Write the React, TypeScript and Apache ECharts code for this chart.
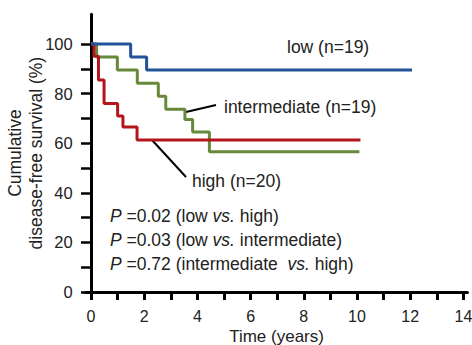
import React, { useEffect, useRef } from 'react';
import * as echarts from 'echarts';

// Kaplan-Meier step data (time in years, survival in %)
const lowTimes = [0, 1.49, 2.09, 12.07];
const lowSurvival = [100, 94.7, 89.5, 89.5];
const intTimes = [0, 0.21, 0.99, 1.74, 2.53, 2.81, 3.53, 3.82, 4.45, 10.09];
const intSurvival = [100, 94.7, 89.5, 84.2, 78.9, 73.7, 69.5, 64.5, 56.5, 56.5];
const highTimes = [0, 0.11, 0.28, 0.49, 1.0, 1.2, 1.73, 10.13];
const highSurvival = [100, 95, 85.5, 76, 71, 66.5, 61.3, 61.3];

const xTickValues = [0, 1, 2, 3, 4, 5, 6, 7, 8, 9, 10, 11, 12, 13, 14];
const xLabelValues = [0, 2, 4, 6, 8, 10, 12, 14];
const yTickValues = [0, 10, 20, 30, 40, 50, 60, 70, 80, 90, 100];
const yLabelValues = [0, 20, 40, 60, 80, 100];

const groupLabels = ['low (n=19)', 'intermediate (n=19)', 'high (n=20)'];
const pLines = [
  '{i|P} =0.02 (low {i|vs.} high)',
  '{i|P} =0.03 (low {i|vs.} intermediate)',
  '{i|P} =0.72 (intermediate  {i|vs.} high)',
];

const FONT = '"Liberation Sans", Arial, Helvetica, sans-serif';
const TXT = '#222';

const zip = (xs: number[], ys: number[]) => xs.map((x, i) => [x, ys[i]]);

export default function App() {
  const ref = useRef<HTMLDivElement>(null);
  useEffect(() => {
    if (!ref.current) return;
    const chart = echarts.init(ref.current, null, { renderer: 'svg' });
    const annFont = 17.5;
    chart.setOption({
      animation: false,
      backgroundColor: '#fff',
      grid: { left: 85.7, right: 4.6, top: 14.2, bottom: 53, containLabel: false, outerBoundsMode: 'none' },
      xAxis: {
        type: 'value',
        min: -0.2,
        max: 14.15,
        splitLine: { show: false },
        axisLine: { show: true, lineStyle: { color: '#000', width: 3 } },
        axisTick: { show: true, customValues: xTickValues, length: 8, lineStyle: { color: '#000', width: 3 } },
        axisLabel: { customValues: xLabelValues, margin: 17, fontSize: 16, lineHeight: 14, color: TXT, fontFamily: FONT },
        name: 'Time (years)',
        nameLocation: 'middle',
        nameGap: 37,
        nameMoveOverlap: false,
        nameTextStyle: { fontSize: 17, lineHeight: 14, color: TXT, fontFamily: FONT },
      },
      yAxis: {
        type: 'value',
        min: 0,
        max: 112,
        splitLine: { show: false },
        axisLine: { show: true, onZero: true, lineStyle: { color: '#000', width: 3 } },
        axisTick: { show: true, customValues: yTickValues, length: 10, lineStyle: { color: '#000', width: 2.5 } },
        axisLabel: { customValues: yLabelValues, margin: 13, fontSize: 16.5, color: TXT, fontFamily: FONT },
        name: 'Cumulative\ndisease-free survival (%)',
        nameLocation: 'middle',
        nameRotate: 90,
        nameGap: 39,
        nameMoveOverlap: false,
        nameTextStyle: { fontSize: 17.5, lineHeight: 21, color: TXT, fontFamily: FONT, align: 'center' },
      },
      series: [
        {
          type: 'line', step: 'end', symbol: 'none', data: zip(intTimes, intSurvival),
          lineStyle: { color: '#67893a', width: 3 }, z: 2,
        },
        {
          type: 'line', step: 'end', symbol: 'none', data: zip(highTimes, highSurvival),
          lineStyle: { color: '#b2161c', width: 3 }, z: 3,
        },
        {
          type: 'line', step: 'end', symbol: 'none', data: zip(lowTimes, lowSurvival),
          lineStyle: { color: '#22539a', width: 3 }, z: 4,
        },
      ],
      graphic: [
        { type: 'text', left: 287, top: 38, style: { text: groupLabels[0], fontSize: annFont, fill: TXT, fontFamily: FONT } },
        { type: 'text', left: 224, top: 98, style: { text: groupLabels[1], fontSize: annFont, fill: TXT, fontFamily: FONT } },
        { type: 'text', left: 192, top: 172, style: { text: groupLabels[2], fontSize: annFont, fill: TXT, fontFamily: FONT } },
        { type: 'line', shape: { x1: 186, y1: 112, x2: 216, y2: 105 }, style: { stroke: '#000', lineWidth: 2 } },
        { type: 'line', shape: { x1: 152, y1: 140, x2: 186, y2: 177 }, style: { stroke: '#000', lineWidth: 2 } },
        ...pLines.map((t, i) => ({
          type: 'text',
          left: 110,
          top: 207 + i * 24,
          style: {
            text: t,
            fontSize: annFont,
            fill: TXT,
            fontFamily: FONT,
            rich: { i: { fontStyle: 'italic', fontSize: annFont, fill: TXT, fontFamily: FONT } },
          },
        })),
      ],
    });
    return () => chart.dispose();
  }, []);
  return (
    <div
      ref={ref}
      style={{ position: 'fixed', left: 0, top: 0, width: 472, height: 345, background: '#fff' }}
    />
  );
}
